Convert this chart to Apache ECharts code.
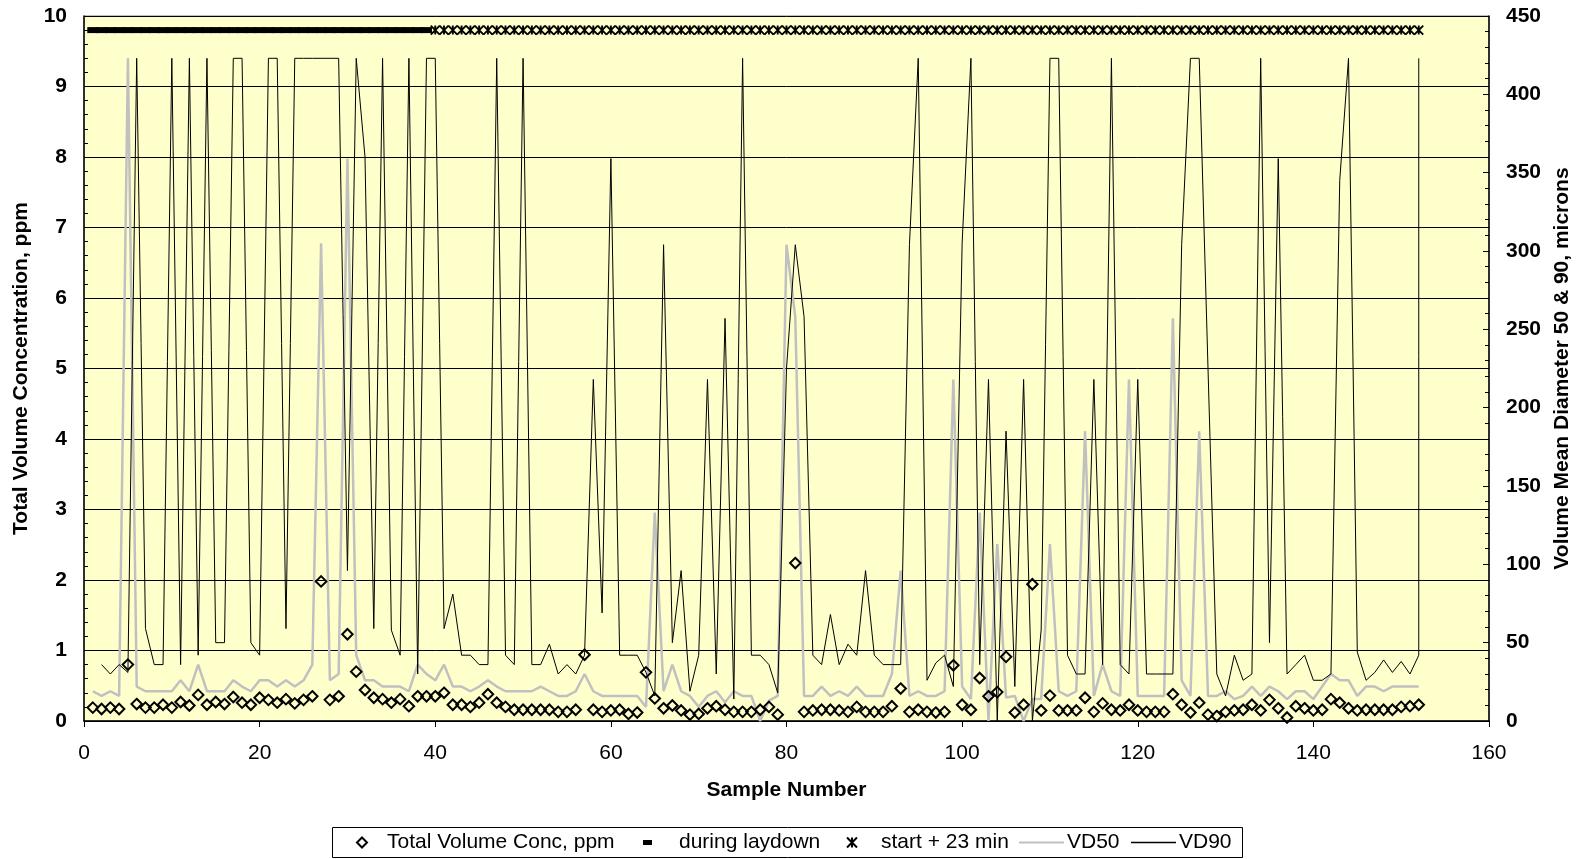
<!DOCTYPE html>
<html>
<head>
<meta charset="utf-8">
<script src="https://cdn.jsdelivr.net/npm/echarts@6/dist/echarts.min.js"></script>
<style>
html,body{margin:0;padding:0;background:#fff;}
#chart{width:1585px;height:859px;}
</style>
</head>
<body>
<div id="chart"></div>
<script>
// ---- Data ----
const sampleCount = 152;
const xTicks = [0, 20, 40, 60, 80, 100, 120, 140, 160];

// Total Volume Concentration, ppm (left axis); null = no marker
const totalConc = [
  0.19,0.17,0.19,0.17,0.8,0.24,0.19,0.19,0.23,0.19,
  0.27,0.22,0.37,0.23,0.27,0.24,0.34,0.26,0.23,0.33,
  0.3,0.26,0.31,0.25,0.3,0.35,1.98,0.3,0.35,1.23,
  0.7,0.44,0.33,0.31,0.26,0.31,0.21,0.35,0.35,0.35,
  0.4,0.23,0.23,0.2,0.26,0.38,0.26,0.2,0.16,0.16,
  0.16,0.16,0.16,0.13,0.13,0.16,0.94,0.16,0.13,0.15,
  0.16,0.1,0.12,0.69,0.32,0.18,0.22,0.15,0.09,0.1,
  0.18,0.21,0.16,0.13,0.13,0.13,0.16,0.2,0.09,null,
  2.24,0.13,0.15,0.16,0.16,0.15,0.13,0.2,0.13,0.13,
  0.13,0.21,0.46,0.13,0.16,0.13,0.12,0.13,0.79,0.23,
  0.16,0.61,0.35,0.41,0.91,0.12,0.23,1.94,0.15,0.36,
  0.15,0.15,0.15,0.33,0.13,0.25,0.16,0.15,0.23,0.15,
  0.13,0.13,0.13,0.38,0.23,0.12,0.26,0.09,0.07,0.13,
  0.15,0.16,0.23,0.15,0.3,0.18,0.05,0.21,0.18,0.15,
  0.16,0.31,0.26,0.18,0.15,0.16,0.16,0.16,0.16,0.2,
  0.21,0.23
];

// VD50, microns (right axis)
const vd50 = [
  19,16,19,16,423,22,19,19,19,19,
  26,19,36,19,19,19,26,22,19,26,
  26,22,26,22,26,36,305,26,30,359,
  42,26,26,22,22,22,19,36,30,26,
  36,22,22,19,22,26,22,19,19,19,
  19,22,19,16,16,19,30,19,16,16,
  16,16,16,9,133,19,36,19,16,9,
  16,19,12,19,16,16,0,13,16,304,
  258,16,16,22,16,19,16,22,16,16,
  16,30,96,16,19,16,16,19,218,22,
  14,133,0,113,15,16,0,14,14,113,
  19,16,19,185,16,36,19,16,218,16,
  16,16,16,257,26,16,185,16,16,19,
  14,16,22,16,22,19,14,19,19,14,
  22,30,26,26,16,22,22,19,22,22,
  22,22
];

// VD90, microns (right axis); null = no value
const vd90 = [
  null,36,30,36,31,423,59,36,36,423,
  36,423,42,423,50,50,423,423,50,42,
  423,423,59,423,423,423,423,423,423,96,
  423,360,59,423,58,42,423,30,423,423,
  59,81,42,42,36,36,423,42,36,423,
  36,36,49,30,36,30,42,218,69,359,
  42,42,42,31,16,304,50,96,19,42,
  218,30,257,14,423,42,42,36,18,225,
  304,258,42,36,68,36,49,42,96,42,
  36,36,36,304,423,26,37,42,22,305,
  423,36,218,0,185,22,218,0,58,423,
  423,42,30,30,218,36,423,36,30,218,
  30,30,30,30,304,423,423,225,30,16,
  42,26,30,423,50,359,30,36,42,26,
  26,30,345,423,44,26,31,39,31,38,
  30,42
];
// last recorded VD90 reading, drawn at the final sample
const vd90Final = 423;

// Period indicator markers (left axis level)
const periodLevel = 9.8;
const laydownSamples = [1, 39];   // first and last sample "during laydown"
const startSamples = [40, 152];   // first and last sample "start + 23 min"

// ---- Build series data ----
const samples = [];
for (let i = 1; i <= sampleCount; i++) samples.push(i);

const concData = samples.map((s, i) => [s, totalConc[i]]).filter(d => d[1] !== null);
const vd50Data = samples.map((s, i) => [s, vd50[i]]);
const vd90Data = samples.map((s, i) => [s, vd90[i]]);
vd90Data.push([sampleCount, vd90Final]);
const laydownData = samples.filter(s => s >= laydownSamples[0] && s <= laydownSamples[1]).map(s => [s, periodLevel]);
const startData = samples.filter(s => s >= startSamples[0] && s <= startSamples[1]).map(s => [s, periodLevel]);

const FONT = '"Liberation Sans", Arial, sans-serif';
const FS = 21;
const asterisk = 'path://M0,0L10,10M10,0L0,10M5,0L5,10';

const chart = echarts.init(document.getElementById('chart'), null, {renderer: 'canvas'});

const legendBase = {
  top: 832,
  padding: 0,
  itemGap: 0,
  selectedMode: false,
  textStyle: {fontFamily: FONT, fontSize: FS, color: '#000'}
};
function withPad(p) {
  return Object.assign({}, legendBase.textStyle, {padding: [0, 0, 0, p]});
}

chart.setOption({
  animation: false,
  backgroundColor: '#ffffff',
  textStyle: {fontFamily: FONT},
  grid: {
    left: 84, right: 96, top: 16, bottom: 138,
    show: true, backgroundColor: '#FFFFCC', borderColor: '#808080', borderWidth: 1,
    containLabel: false
  },
  xAxis: {
    type: 'value', min: xTicks[0], max: xTicks[xTicks.length - 1], interval: 20,
    name: 'Sample Number', nameLocation: 'middle', nameGap: 59,
    nameTextStyle: {fontFamily: FONT, fontSize: FS, fontWeight: 'bold', color: '#000'},
    axisLine: {show: true, onZero: false, lineStyle: {color: '#000', width: 1.5}},
    axisTick: {show: true, inside: false, length: 6, lineStyle: {color: '#000'}},
    axisLabel: {fontFamily: FONT, fontSize: FS, color: '#000', margin: 22},
    splitLine: {show: false}
  },
  yAxis: [
    {
      type: 'value', min: 0, max: 10, interval: 1, position: 'left',
      name: 'Total Volume Concentration, ppm', nameLocation: 'middle', nameGap: 52, nameRotate: 90,
      nameTextStyle: {fontFamily: FONT, fontSize: FS, fontWeight: 'bold', color: '#000'},
      axisLine: {show: true, onZero: false, lineStyle: {color: '#000', width: 1.5}},
      axisTick: {show: true, inside: true, length: 6, lineStyle: {color: '#000'}},
      minorTick: {show: true, splitNumber: 5, length: 4, lineStyle: {color: '#000'}},
      axisLabel: {fontFamily: FONT, fontSize: FS, fontWeight: 'bold', color: '#000', margin: 17},
      splitLine: {show: true, lineStyle: {color: '#000', width: 1}}
    },
    {
      type: 'value', min: 0, max: 450, interval: 50, position: 'right',
      name: 'Volume Mean Diameter 50 & 90, microns', nameLocation: 'middle', nameGap: 63, nameRotate: 90,
      nameTextStyle: {fontFamily: FONT, fontSize: FS, fontWeight: 'bold', color: '#000'},
      axisLine: {show: true, onZero: false, lineStyle: {color: '#000', width: 1.5}},
      axisTick: {show: true, inside: true, length: 6, lineStyle: {color: '#000'}},
      minorTick: {show: true, splitNumber: 5, length: 4, lineStyle: {color: '#000'}},
      axisLabel: {fontFamily: FONT, fontSize: FS, fontWeight: 'bold', color: '#000', margin: 17},
      splitLine: {show: false}
    }
  ],
  graphic: [{
    type: 'rect', z: 0, silent: true,
    shape: {x: 332.5, y: 827.5, width: 910, height: 30},
    style: {fill: '#fff', stroke: '#000', lineWidth: 1}
  }],
  legend: [
    Object.assign({}, legendBase, {left: 356, itemWidth: 10, itemHeight: 10, icon: 'diamond',
      data: ['Total Volume Conc, ppm'], textStyle: withPad(15)}),
    Object.assign({}, legendBase, {left: 643, itemWidth: 9, itemHeight: 5, icon: 'rect',
      data: ['during laydown'], textStyle: withPad(22)}),
    Object.assign({}, legendBase, {left: 846, itemWidth: 10, itemHeight: 10,
      data: ['start + 23 min'], textStyle: withPad(19)}),
    Object.assign({}, legendBase, {left: 1019, itemWidth: 45, itemHeight: 2, icon: 'rect',
      data: ['VD50'], textStyle: withPad(-2)}),
    Object.assign({}, legendBase, {left: 1131, itemWidth: 45, itemHeight: 1.5, icon: 'rect',
      data: ['VD90'], textStyle: withPad(-2)})
  ],
  series: [
    {
      name: 'VD50', type: 'line', yAxisIndex: 1, data: vd50Data,
      symbol: 'none', showSymbol: false, connectNulls: false, z: 2,
      lineStyle: {color: '#C0C0C0', width: 2.5}, itemStyle: {color: '#C0C0C0'}
    },
    {
      name: 'VD90', type: 'line', yAxisIndex: 1, data: vd90Data,
      symbol: 'none', showSymbol: false, connectNulls: false, z: 3,
      lineStyle: {color: '#000', width: 1}, itemStyle: {color: '#000'}
    },
    {
      name: 'Total Volume Conc, ppm', type: 'scatter', yAxisIndex: 0, data: concData,
      symbol: 'diamond', symbolSize: [10.5, 10.5], z: 4,
      itemStyle: {color: 'rgba(0,0,0,0)', borderColor: '#000', borderWidth: 2, opacity: 1}
    },
    {
      name: 'during laydown', type: 'scatter', yAxisIndex: 0, data: laydownData,
      symbol: 'rect', symbolSize: [11, 6], z: 5,
      itemStyle: {color: '#000', opacity: 1}
    },
    {
      name: 'start + 23 min', type: 'scatter', yAxisIndex: 0, data: startData,
      symbol: asterisk, symbolSize: [9, 9], z: 5,
      itemStyle: {color: 'rgba(0,0,0,0)', borderColor: '#000', borderWidth: 1.9, opacity: 1}
    }
  ]
});
</script>
</body>
</html>
